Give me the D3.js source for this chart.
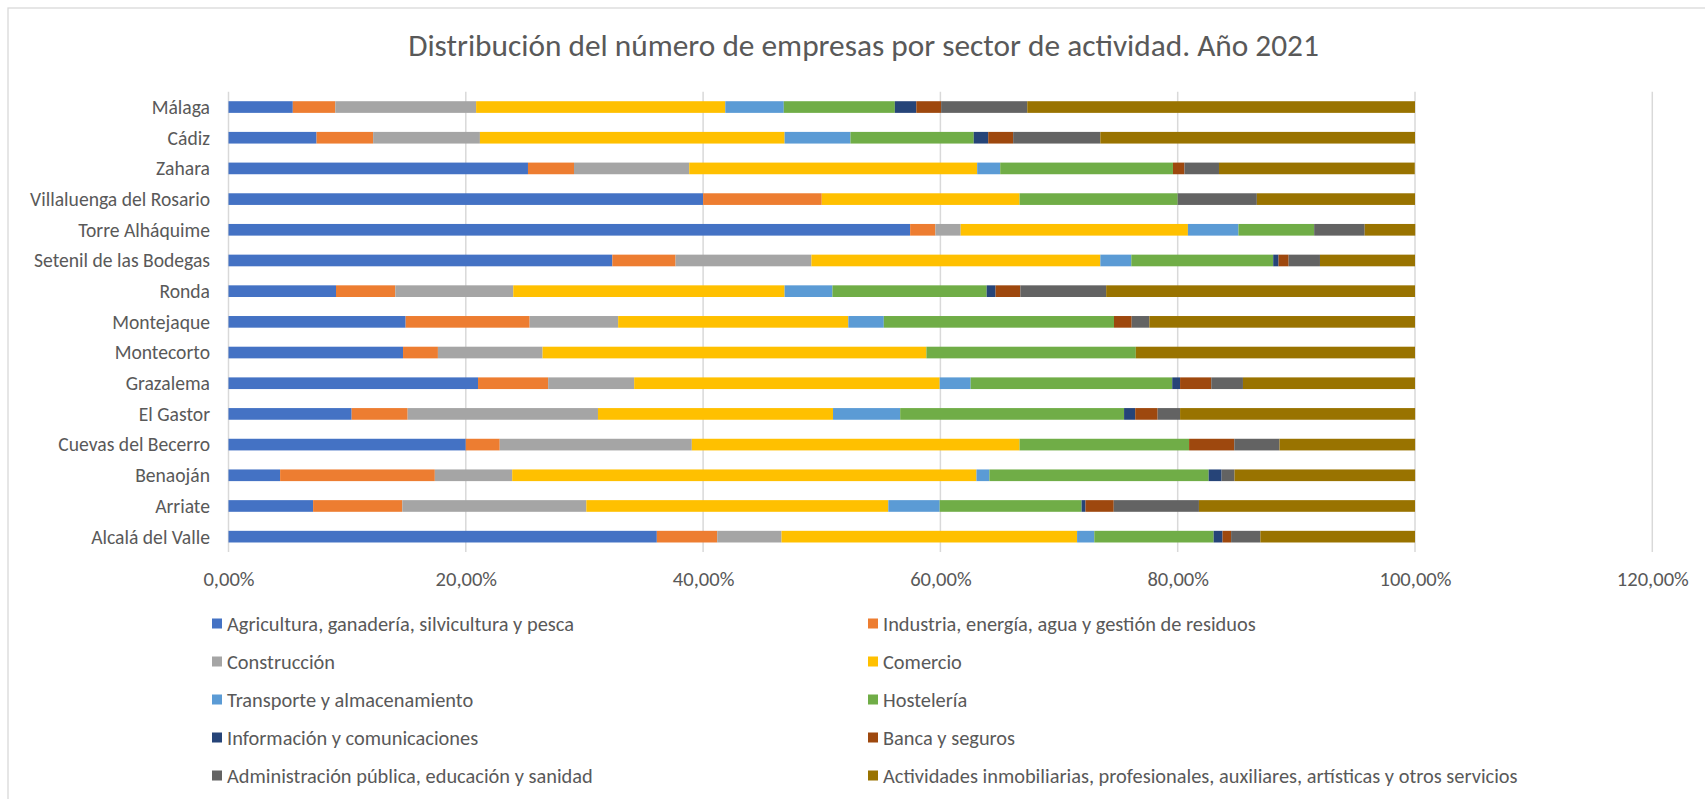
<!DOCTYPE html>
<html>
<head>
<meta charset="utf-8">
<script src="https://cdn.jsdelivr.net/npm/d3@7"></script>
<style>
  html, body { margin: 0; padding: 0; background: #fff; }
  svg { display: block; }
</style>
</head>
<body>
<svg id="chart" width="1705" height="799"></svg>
<script>
// ---------- DATA ----------
const categories = [
  "Málaga", "Cádiz", "Zahara", "Villaluenga del Rosario", "Torre Alháquime",
  "Setenil de las Bodegas", "Ronda", "Montejaque", "Montecorto", "Grazalema",
  "El Gastor", "Cuevas del Becerro", "Benaoján", "Arriate", "Alcalá del Valle"
];

const seriesNames = [
  "Agricultura, ganadería, silvicultura y pesca",
  "Industria, energía, agua y gestión de residuos",
  "Construcción",
  "Comercio",
  "Transporte y almacenamiento",
  "Hostelería",
  "Información y comunicaciones",
  "Banca y seguros",
  "Administración pública, educación y sanidad",
  "Actividades inmobiliarias, profesionales, auxiliares, artísticas y otros servicios"
];

const seriesColors = ["#4472C4", "#ED7D31", "#A5A5A5", "#FFC000", "#5B9BD5",
                      "#70AD47", "#264478", "#9E480E", "#636363", "#997300"];

// values in %, in the order of `categories`
const agricultura   = [5.42, 7.42, 25.24, 40.00, 57.45, 32.35, 9.06, 14.93, 14.71, 21.03, 10.38, 20.00, 4.35, 7.13, 36.10];
const industria     = [3.58, 4.77, 3.88, 10.00, 2.13, 5.33, 5.00, 10.45, 2.94, 5.91, 4.72, 2.86, 13.04, 7.52, 5.09];
const construccion  = [11.87, 9.00, 9.71, 0.00, 2.13, 11.45, 9.94, 7.46, 8.82, 7.25, 16.04, 16.19, 6.52, 15.51, 5.42];
const comercio      = [21.00, 25.68, 24.27, 16.67, 19.15, 24.35, 22.87, 19.40, 32.35, 25.75, 19.81, 27.62, 39.13, 25.45, 24.91];
const transporte    = [4.93, 5.55, 1.94, 0.00, 4.26, 2.61, 4.03, 2.99, 0.00, 2.61, 5.66, 0.00, 1.09, 4.33, 1.45];
const hosteleria    = [9.36, 10.39, 14.56, 13.33, 6.38, 11.96, 13.00, 19.40, 17.65, 16.99, 18.87, 14.29, 18.48, 11.96, 10.06];
const informacion   = [1.81, 1.22, 0.00, 0.00, 0.00, 0.45, 0.75, 0.00, 0.00, 0.66, 0.94, 0.00, 1.09, 0.33, 0.75];
const banca         = [2.09, 2.10, 0.97, 0.00, 0.00, 0.85, 2.09, 1.49, 0.00, 2.63, 1.89, 3.81, 0.00, 2.38, 0.72];
const administracion= [7.26, 7.35, 2.91, 6.67, 4.26, 2.64, 7.23, 1.49, 0.00, 2.67, 1.89, 3.81, 1.09, 7.18, 2.47];
const actividades   = [32.68, 26.52, 16.50, 13.33, 4.26, 8.01, 26.03, 22.39, 23.53, 14.50, 19.81, 11.43, 15.22, 18.21, 13.03];

const tickValues = [0, 0.2, 0.4, 0.6, 0.8, 1.0, 1.2];
const titleText = "Distribución del número de empresas por sector de actividad. Año 2021";

// ---------- BUILD ----------
const seriesValues = [agricultura, industria, construccion, comercio, transporte,
                      hosteleria, informacion, banca, administracion, actividades];
const table = categories.map((c, i) => {
  const row = { cat: c };
  seriesNames.forEach((s, j) => row[s] = seriesValues[j][i] / 100);
  return row;
});
const stacked = d3.stack().keys(seriesNames)(table);

const svg = d3.select("#chart");
const FONT = "Carlito, Calibri, Lato, sans-serif";
const TXT = "#595959";

// chart border (cropped on right / bottom)
svg.append("rect").attr("x", 8).attr("y", 8).attr("width", 1720).attr("height", 820)
  .attr("fill", "#fff").attr("stroke", "#D9D9D9").attr("stroke-width", 1.3);

function fitSize(text, target, base) {
  const t = svg.append("text").attr("font-family", FONT).attr("font-size", 100).text(text);
  const w = t.node().getComputedTextLength();
  t.remove();
  return Math.min(base * 1.2, 100 * target / w);
}

const labelSize = fitSize("Villaluenga del Rosario", 180, 19);
const tickSize = fitSize("100,00%", 72, 19);
const legendSize = fitSize(seriesNames[9], 635, 19);
const titleSize = fitSize(titleText, 911, 28);

const x = d3.scaleLinear().domain([0, 1.2]).range([228.5, 1652.3]);
const y = d3.scaleBand().domain(categories).range([91.7, 552]).paddingInner(0.62).paddingOuter(0.31);

// gridlines
svg.append("g").selectAll("line").data(tickValues).join("line")
  .attr("x1", d => x(d)).attr("x2", d => x(d))
  .attr("y1", 91.7).attr("y2", 552)
  .attr("stroke", "#D9D9D9").attr("stroke-width", 1.5);

// bars
svg.append("g").selectAll("g").data(stacked).join("g")
  .attr("fill", (d, i) => seriesColors[i])
  .selectAll("rect").data(d => d).join("rect")
  .attr("x", d => x(d[0]))
  .attr("width", d => Math.max(0, x(d[1]) - x(d[0])))
  .attr("y", d => y(d.data.cat))
  .attr("height", y.bandwidth());

// x axis tick labels
const xAxis = d3.axisBottom(x).tickValues(tickValues).tickSize(0)
  .tickFormat(d => (d * 100).toFixed(2).replace(".", ",") + "%");
const gx = svg.append("g").attr("transform", "translate(0,572)").call(xAxis);
gx.select(".domain").remove();
gx.selectAll("text").attr("font-family", FONT).attr("font-size", tickSize)
  .attr("fill", TXT).attr("dy", null).attr("y", 14);

// y axis labels
const yAxis = d3.axisLeft(y).tickSize(0).tickPadding(0);
const gy = svg.append("g").attr("transform", "translate(210,0)").call(yAxis);
gy.select(".domain").remove();
gy.selectAll("text").attr("font-family", FONT).attr("font-size", labelSize)
  .attr("fill", TXT).attr("x", 0).attr("dy", "0.35em");

// title
svg.append("text").attr("x", 863.5).attr("y", 56).attr("text-anchor", "middle")
  .attr("font-family", FONT).attr("font-size", titleSize).attr("fill", TXT)
  .text(titleText);

// legend
const colX = [212, 868];
const rowY = [623.5, 661.5, 699.5, 737.5, 775.5];
const leg = svg.append("g").selectAll("g").data(seriesNames).join("g")
  .attr("transform", (d, i) => `translate(${colX[i % 2]},${rowY[Math.floor(i / 2)]})`);
leg.append("rect").attr("x", 0).attr("y", -5).attr("width", 10).attr("height", 10)
  .attr("fill", (d, i) => seriesColors[i]);
leg.append("text").attr("x", 15).attr("dy", "0.35em")
  .attr("font-family", FONT).attr("font-size", legendSize).attr("fill", TXT)
  .text(d => d);
</script>
</body>
</html>
